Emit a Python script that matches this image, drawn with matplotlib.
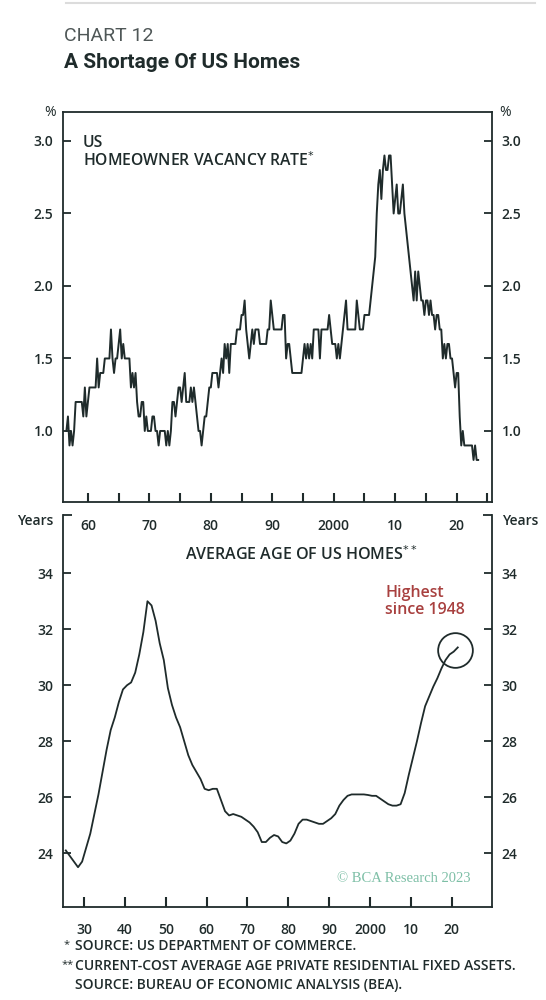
import numpy as np
import matplotlib
matplotlib.use("Agg")
import matplotlib.pyplot as plt

plt.rcParams['font.family'] = ['Open Sans', 'DejaVu Sans']

INK = '#1f2b2b'
GREY = '#4f5757'
RED = '#a8403f'
TEAL = '#7dbfa6'

# homeowner vacancy rate, quarterly, first obs 1956 Q3
vac_start = 1956.5
vacancy = [
    1.0, 1.1,
    0.9, 1.0, 0.9, 1.0,  1.2, 1.2, 1.2, 1.2,  1.2, 1.1, 1.3, 1.1,  1.2, 1.3, 1.3, 1.3,
    1.3, 1.3, 1.5, 1.3,  1.4, 1.4, 1.4, 1.5,  1.5, 1.5, 1.5, 1.7,  1.5, 1.4, 1.5, 1.5,
    1.6, 1.7, 1.5, 1.6,  1.5, 1.5, 1.5, 1.5,  1.3, 1.4, 1.3, 1.4,  1.2, 1.1, 1.1, 1.2,
    1.2, 1.0, 1.1, 1.0,  1.0, 1.0, 1.1, 1.1,  1.0, 1.0, 0.9, 1.0,  1.0, 1.0, 1.0, 0.9,
    1.0, 0.9, 1.0, 1.2,  1.2, 1.1, 1.2, 1.3,  1.3, 1.2, 1.3, 1.4,  1.2, 1.2, 1.2, 1.3,
    1.2, 1.3, 1.2, 1.1,  1.0, 1.0, 0.9, 1.0,  1.1, 1.1, 1.2, 1.3,  1.3, 1.4, 1.4, 1.4,
    1.4, 1.3, 1.4, 1.5,  1.4, 1.6, 1.5, 1.6,  1.4, 1.6, 1.6, 1.6,  1.6, 1.7, 1.7, 1.7,
    1.8, 1.8, 1.9, 1.7,  1.6, 1.5, 1.6, 1.7,  1.6, 1.7, 1.7, 1.7,  1.6, 1.6, 1.6, 1.6,
    1.6, 1.7, 1.7, 1.9,  1.8, 1.7, 1.7, 1.7,  1.7, 1.7, 1.7, 1.8,  1.8, 1.5, 1.6, 1.6,
    1.5, 1.4, 1.4, 1.4,  1.4, 1.4, 1.4, 1.4,  1.5, 1.6, 1.5, 1.6,  1.5, 1.6, 1.5, 1.7,
    1.7, 1.7, 1.7, 1.5,  1.7, 1.7, 1.7, 1.7,  1.7, 1.8, 1.7, 1.6,  1.6, 1.6, 1.5, 1.6,
    1.5, 1.6, 1.7, 1.8,  1.9, 1.7, 1.7, 1.7,  1.7, 1.7, 1.7, 1.9,  1.8, 1.7, 1.7, 1.7,
    1.8, 1.8, 1.8, 1.8,  1.9, 2.0, 2.1, 2.2,  2.5, 2.7, 2.8, 2.6,  2.8, 2.9, 2.8, 2.8,
    2.9, 2.9, 2.7, 2.5,  2.6, 2.7, 2.5, 2.5,  2.6, 2.7, 2.5, 2.4,  2.3, 2.2, 2.1, 2.0,
    1.9, 2.1, 1.9, 2.1,  2.0, 1.9, 1.9, 1.8,  1.9, 1.9, 1.8, 1.9,  1.8, 1.8, 1.7, 1.8,
    1.8, 1.7, 1.7, 1.5,  1.6, 1.5, 1.6, 1.6,  1.5, 1.5, 1.4, 1.3,  1.4, 1.4, 1.1, 0.9,
    1.0, 0.9, 0.9, 0.9,  0.9, 0.9, 0.9, 0.8,  0.9, 0.8, 0.8,
]
vac_dates = vac_start + 0.25 * np.arange(len(vacancy))

# average age of US homes, annual 1925-2021
age_years = np.arange(1925, 2022)
avg_age = [
    24.1, 23.9, 23.7, 23.5, 23.7, 24.2, 24.7, 25.4, 26.1, 26.9,
    27.7, 28.4, 28.85, 29.4, 29.85, 30.0, 30.1, 30.45, 31.1, 31.9,
    33.0, 32.85, 32.3, 31.5, 30.9, 29.9, 29.3, 28.85, 28.5, 28.0,
    27.5, 27.15, 26.9, 26.65, 26.3, 26.25, 26.3, 26.3, 25.9, 25.5,
    25.35, 25.4, 25.35, 25.3, 25.2, 25.1, 24.95, 24.75, 24.4, 24.4,
    24.55, 24.65, 24.6, 24.4, 24.35, 24.45, 24.7, 25.05, 25.2, 25.2,
    25.15, 25.1, 25.05, 25.05, 25.15, 25.25, 25.4, 25.7, 25.9, 26.05,
    26.1, 26.1, 26.1, 26.1, 26.08, 26.05, 26.05, 25.95, 25.85, 25.75,
    25.7, 25.7, 25.75, 26.15, 26.8, 27.4, 28.0, 28.65, 29.25, 29.6,
    29.95, 30.25, 30.6, 30.9, 31.1, 31.2, 31.35,
]

top_xticks = np.arange(1960, 2021, 10)
top_xminor = np.arange(1965, 2026, 10)
top_xlabels = ['60', '70', '80', '90', '2000', '10', '20']
bot_xticks = np.arange(1930, 2021, 10)
bot_xlabels = ['30', '40', '50', '60', '70', '80', '90', '2000', '10', '20']
top_yticks = [1.0, 1.5, 2.0, 2.5, 3.0]
bot_yticks = [24, 26, 28, 30, 32, 34]


def style_axis(ax, tick_years):
    for s in ax.spines.values():
        s.set_color(INK)
        s.set_linewidth(1.3)
    ax.tick_params(axis='both', which='both', direction='in', colors=INK,
                   width=1.3, labelsize=10, labelcolor=INK)
    ax.tick_params(axis='y', which='major', length=6, left=True, right=True,
                   labelleft=True, labelright=True, pad=7)
    ax.tick_params(axis='x', which='both', length=0, top=False, pad=12)
    # inward x ticks in data units, from the bottom of the y range
    y0, y1 = ax.get_ylim()
    ax.vlines(tick_years, y0, y0 + 0.024 * (y1 - y0), color=INK, lw=1.5,
              zorder=6, clip_on=False)
    ax.set_ylim(y0, y1)


fig = plt.figure(figsize=(5.46, 10), dpi=100)

# header
fig.add_artist(plt.Line2D([0.12, 0.98], [0.997, 0.997], color='#dcdcdc', lw=1.5))
fig.text(0.117, 0.964, 'CHART 12', fontsize=14, color=GREY, family='Roboto',
         va='center')
fig.text(0.117, 0.937, 'A Shortage Of US Homes', fontsize=15, color=INK,
         family='Roboto', fontweight='bold', va='center')

# top panel: vacancy rate
ax1 = fig.add_axes([0.116, 0.498, 0.7845, 0.39])
ax1.plot(vac_dates, vacancy, color=INK, lw=1.4)
ax1.set_xlim(1956, 2025.7)
ax1.set_ylim(0.51, 3.2)
ax1.set_yticks(top_yticks)
ax1.set_yticklabels([f'{v:.1f}' for v in top_yticks], fontweight='semibold')
ax1.set_xticks(top_xticks)
ax1.set_xticklabels(top_xlabels, fontweight='semibold')
style_axis(ax1, np.concatenate([top_xticks, top_xminor]))
ax1.text(0.045, 0.941, 'US\nHOMEOWNER VACANCY RATE$^{*}$', transform=ax1.transAxes,
         fontsize=11.3, fontweight='semibold', color=INK, va='top', linespacing=1.05)
fig.text(0.092, 0.887, '%', fontsize=10, color=INK, ha='center', va='center')
fig.text(0.925, 0.887, '%', fontsize=10, color=INK, ha='center', va='center')

# bottom panel: average age
ax2 = fig.add_axes([0.116, 0.0933, 0.7845, 0.3917])
ax2.patch.set_visible(False)
ax2.plot(age_years + 0.5, avg_age, color=INK, lw=1.3)
ax2.set_xlim(1924.9, 2029.8)
ax2.set_ylim(22.09, 36.08)
ax2.set_yticks(bot_yticks)
ax2.set_yticklabels([str(v) for v in bot_yticks], fontweight='semibold')
ax2.set_xticks(bot_xticks)
ax2.set_xticklabels(bot_xlabels, fontweight='semibold')
style_axis(ax2, bot_xticks)
ax2.spines['top'].set_visible(False)
for x0, x1 in [(0, 0.02), (0.98, 1.0)]:
    ax2.plot([x0, x1], [1, 1], transform=ax2.transAxes, color=INK, lw=1.3,
             clip_on=False, solid_capstyle='butt')
fig.text(0.065, 0.479, 'Years', fontsize=10, fontweight='semibold', color=INK,
         ha='center', va='center')
fig.text(0.952, 0.479, 'Years', fontsize=10, fontweight='semibold', color=INK,
         ha='center', va='center')
ax2.text(0.555, 0.90, 'AVERAGE AGE OF US HOMES$^{**}$', transform=ax2.transAxes,
         fontsize=11.5, fontweight='semibold', color=INK, ha='center', va='center')

ax2.plot([2020.8], [31.26], 'o', ms=25, mfc='none', mec=INK, mew=1.3)
ax2.text(2003.7, 33.0, 'Highest\nsince 1948', fontsize=11.5, color=RED,
         fontweight='semibold', ha='left', va='center', linespacing=1.05)
ax2.text(0.95, 0.073, '\u00a9 BCA Research 2023', transform=ax2.transAxes,
         fontsize=10.5, family='Liberation Serif', color=TEAL, ha='right', va='center')

# footnotes
fig.text(0.117, 0.055, '*', fontsize=8, color=INK, va='center')
fig.text(0.137, 0.054, 'SOURCE: US DEPARTMENT OF COMMERCE.', fontsize=10,
         fontweight='semibold', color=INK, va='center')
fig.text(0.113, 0.035, '**', fontsize=8, color=INK, va='center')
fig.text(0.137, 0.034, 'CURRENT-COST AVERAGE AGE PRIVATE RESIDENTIAL FIXED ASSETS.',
         fontsize=10, fontweight='semibold', color=INK, va='center')
fig.text(0.137, 0.015, 'SOURCE: BUREAU OF ECONOMIC ANALYSIS (BEA).', fontsize=10,
         fontweight='semibold', color=INK, va='center')

fig.savefig('out.png', dpi=100, facecolor='white')
